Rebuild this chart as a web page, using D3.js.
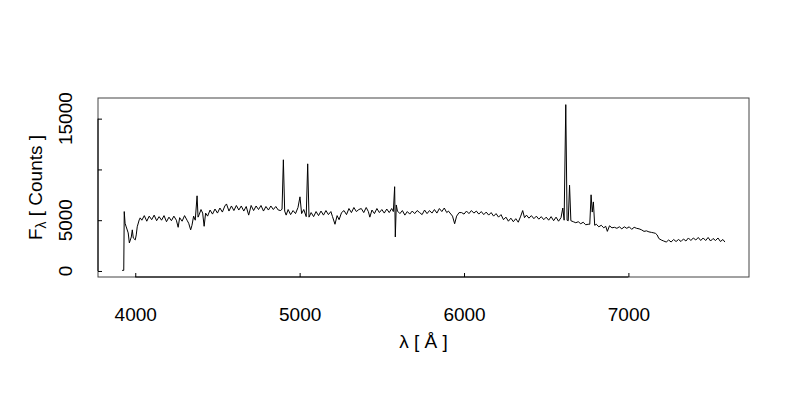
<!DOCTYPE html>
<html>
<head>
<meta charset="utf-8">
<script src="https://cdn.jsdelivr.net/npm/d3@7"></script>
<style>
  html, body { margin: 0; padding: 0; background: #fff; }
  svg { display: block; font-family: "Liberation Sans", Arial, Helvetica, sans-serif; }
</style>
</head>
<body>
<svg id="chart" width="800" height="400"></svg>
<script>
// ---- data ----
const wavelength = [
3920,3930,3933,3938,3945,3957,3964,3976,3982,3988,4000,4006,4012,4024,4030,
4040,4055,4070,4085,4100,4115,4130,4145,4160,4175,4190,4205,4220,4235,4250,4261,4270,4285,4300,4315,4325,4337,4345,4355,4365,4376,4382,4390,4400,4410,4419,4428,4440,4455,4470,4485,4500,4515,4530,4545,4555,4570,4585,4600,4615,4630,4645,4660,4675,4690,4705,4720,4735,4750,4765,4780,4795,4810,4825,4840,4855,4870,4885,4893,4901,4909,4918,4930,4945,4960,4975,4990,5002,5012,5025,5040,5049,5057,5070,5085,5100,5115,5130,5145,5160,5175,5190,5200,5215,5228,5240,5255,5270,5285,5300,5315,5330,5345,5360,5375,5390,5405,5418,5427,5440,5455,5470,5485,5500,5515,5530,5545,5560,5570,5578,5582,5588,5595,5610,5625,5640,5655,5670,5685,5700,5715,5730,5745,5760,5775,5790,5805,5820,5835,5850,5865,5880,5895,5905,5930,5943,5955,5970,5985,6000,6015,6030,6045,6060,6075,6090,6105,6120,6135,6150,6165,6180,6195,6210,6225,6240,6255,6270,6285,6300,6315,6330,6345,6357,6368,6380,6395,6410,6425,6440,6455,6470,6485,6500,6515,6530,6545,6560,6575,6590,6601,6609,6619,6627,6634,6642,6650,6665,6680,6695,6710,6725,6740,6755,6765,6773,6780,6787,6795,6805,6820,6835,6850,6862,6872,6885,6900,6915,6930,6945,6960,6975,6990,7005,7020,7035,7050,7065,7080,7095,7110,7125,7140,7155,7165,7175,7185,7200,7215,7230,7245,7260,7275,7290,7305,7320,7335,7350,7365,7380,7395,7410,7425,7440,7455,7470,7485,7500,7515,7530,7545,7560,7575,7587
];
const flux = [
60,60,5850,4700,4340,3750,2760,3350,4050,3250,3060,3550,4350,5030,5230,
5000,5450,4900,5400,5050,5500,4950,5350,5000,5450,4850,5300,4950,5400,5000,4300,5250,4900,5450,5000,4700,4050,4500,5400,5000,7400,5300,5600,6050,5700,4400,5700,5400,6000,5600,6100,5700,6200,5800,6400,6600,5900,6400,5950,6450,6000,6400,5900,6350,5500,6450,5950,6400,6050,6450,5900,6350,6000,6400,6050,6350,6000,5950,6100,10950,5900,5500,6050,5550,5950,5650,6250,7300,5650,6050,5350,10550,5300,5750,5350,5850,5450,5900,5500,5950,5550,5850,5350,4600,5450,5050,5750,5950,5550,6150,5750,6250,5850,6050,6150,5750,6250,5850,5300,6000,5650,6150,5750,6050,5700,6100,5750,6150,5850,8300,3350,6500,5900,5650,5950,5500,5850,5600,5900,5650,5950,5750,5550,6000,5650,5950,5700,6050,5700,6150,5850,6200,5750,5900,5400,4650,5400,5750,5750,5600,5900,5650,5950,5700,5900,5600,5850,5550,5800,5500,5750,5400,5650,5300,5550,5050,5300,4900,5200,4850,5150,4800,5400,5950,5250,5500,5200,5450,5150,5400,5100,5350,5050,5300,5000,5350,4950,5300,4900,5250,6200,5000,16380,5000,4950,8450,4950,4850,4750,4850,4650,4800,4550,4600,4600,7500,5800,6800,4500,4600,4350,4500,4250,4400,3900,4450,4250,4300,4200,4350,4150,4350,4200,4350,4100,4300,4200,4150,4050,3900,3950,3850,3800,3750,3700,3550,3200,3050,2950,2850,3050,2850,3100,2900,3100,2900,3150,2950,3250,3000,3250,3050,3300,3000,3250,3000,3300,2950,3200,3000,3250,2900,3100,2850,2950
];
const xTicks = [4000, 5000, 6000, 7000];
const xTickLabels = ["4000", "5000", "6000", "7000"];
const yTicks = [0, 5000, 10000, 15000];
const yTickLabels = ["0", "5000", "", "15000"];   // R drops the overlapping 10000 label
const xTitle = "λ [ Å ]";
const yTitleMain = "F";
const yTitleSub = "λ";
const yTitleRest = " [ Counts ]";

// ---- layout ----
const svg = d3.select("#chart");
svg.append("rect").attr("width", 800).attr("height", 400).attr("fill", "#fff");
const L = 98, R = 749, T = 98, B = 277;
const FS = 19;

const data = wavelength.map((w, i) => ({ w, f: flux[i] }));
function pad(ext) { const d = ext[1] - ext[0]; return [ext[0] - 0.04 * d, ext[1] + 0.04 * d]; }
const x = d3.scaleLinear().domain(pad(d3.extent(wavelength))).range([L, R]);
const y = d3.scaleLinear().domain(pad(d3.extent(flux))).range([B, T]);

// spectrum
const line = d3.line().x(d => x(d.w)).y(d => y(d.f));
svg.append("path").datum(data)
  .attr("d", line)
  .attr("fill", "none")
  .attr("stroke", "#000")
  .attr("stroke-width", 1)
  .attr("stroke-linejoin", "round");

// box
svg.append("rect")
  .attr("x", L).attr("y", T).attr("width", R - L).attr("height", B - T)
  .attr("fill", "none").attr("stroke", "#444").attr("stroke-width", 1);

// x axis
const xAxis = d3.axisBottom(x).tickValues(xTicks)
  .tickFormat((d, i) => xTickLabels[i]).tickSizeInner(-4).tickSizeOuter(0).tickPadding(31);
const gx = svg.append("g").attr("transform", `translate(0,${B})`).call(xAxis);
gx.select(".domain").remove();
gx.selectAll("line").attr("stroke", "#000");
gx.selectAll("text").attr("font-size", FS).attr("fill", "#000")
  .attr("font-family", '"Liberation Sans", Arial, sans-serif');
gx.append("line").attr("x1", x(xTicks[0])).attr("x2", x(xTicks[xTicks.length - 1]))
  .attr("y1", 0).attr("y2", 0).attr("stroke", "#000").attr("stroke-width", 1);

// y axis
const yAxis = d3.axisLeft(y).tickValues(yTicks).tickFormat("").tickSizeInner(-4).tickSizeOuter(0);
const gy = svg.append("g").attr("transform", `translate(${L},0)`).call(yAxis);
gy.select(".domain").remove();
gy.selectAll("line").attr("stroke", "#000");
gy.append("line").attr("x1", 0).attr("x2", 0)
  .attr("y1", y(yTicks[0])).attr("y2", y(yTicks[yTicks.length - 1]))
  .attr("stroke", "#000").attr("stroke-width", 1);
svg.append("g").selectAll("text").data(yTicks).join("text")
  .attr("transform", d => `translate(72,${y(d)}) rotate(-90)`)
  .attr("text-anchor", "middle")
  .attr("font-size", FS).attr("fill", "#000")
  .text((d, i) => yTickLabels[i]);

// titles
svg.append("text").attr("x", (L + R) / 2).attr("y", 348)
  .attr("text-anchor", "middle").attr("font-size", FS).attr("fill", "#000")
  .text(xTitle);

const yt = svg.append("text")
  .attr("transform", `translate(42,${(T + B) / 2}) rotate(-90)`)
  .attr("text-anchor", "middle").attr("font-size", FS).attr("fill", "#000");
yt.append("tspan").text(yTitleMain);
yt.append("tspan").attr("font-size", 14).attr("dy", 4).text(yTitleSub);
yt.append("tspan").attr("dy", -4).text(yTitleRest);
</script>
</body>
</html>
